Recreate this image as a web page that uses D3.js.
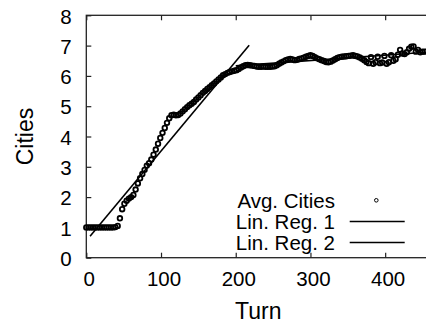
<!DOCTYPE html>
<html>
<head>
<meta charset="utf-8">
<script src="https://cdn.jsdelivr.net/npm/d3@7"></script>
<style>
  body { margin: 0; background: white; }
  text { font-family: "Liberation Sans", Arial, sans-serif; fill: black; }
</style>
</head>
<body>
<div class="chart"></div>
<script>
const turns = d3.range(0, 454, 3)
const avgCities = [
  1.00, 1.00, 1.00, 1.00, 1.00, 1.00, 1.00, 1.00, 1.00, 1.00,
  1.00, 1.00, 1.00, 1.01, 1.05, 1.30, 1.60, 1.78, 1.88, 1.95,
  2.00, 2.07, 2.25, 2.45, 2.62, 2.76, 2.90, 3.04, 3.12, 3.24,
  3.40, 3.57, 3.76, 3.95, 4.12, 4.28, 4.45, 4.60, 4.70, 4.72,
  4.70, 4.71, 4.76, 4.83, 4.90, 4.97, 5.03, 5.08, 5.14, 5.22,
  5.29, 5.36, 5.44, 5.50, 5.57, 5.63, 5.69, 5.75, 5.82, 5.88,
  5.95, 6.02, 6.06, 6.10, 6.13, 6.15, 6.17, 6.19, 6.23, 6.28,
  6.32, 6.35, 6.36, 6.35, 6.34, 6.33, 6.31, 6.30, 6.30, 6.31,
  6.30, 6.30, 6.30, 6.31, 6.32, 6.35, 6.40, 6.44, 6.48, 6.52,
  6.54, 6.56, 6.54, 6.52, 6.53, 6.56, 6.58, 6.60, 6.63, 6.66,
  6.68, 6.66, 6.62, 6.58, 6.55, 6.52, 6.49, 6.46, 6.45, 6.47,
  6.51, 6.55, 6.59, 6.62, 6.63, 6.64, 6.65, 6.66, 6.67, 6.68,
  6.66, 6.64, 6.61, 6.57, 6.52, 6.46, 6.42, 6.62, 6.40, 6.45,
  6.63, 6.42, 6.44, 6.66, 6.40, 6.45, 6.68, 6.50, 6.55, 6.70,
  6.86, 6.74, 6.72, 6.78, 6.90, 6.96, 6.97, 6.80, 6.86, 6.78,
  6.80, 6.80
]

// regression lines: [turn, cities] end points
const linReg1 = [[5, 0.71], [218, 7.01]]
const linReg2 = [[200, 6.33], [460, 6.79]]

const xTicks = [0, 100, 200, 300, 400]
const yTicks = [0, 1, 2, 3, 4, 5, 6, 7, 8]
const legendLabels = ["Avg. Cities", "Lin. Reg. 1", "Lin. Reg. 2"]

const dataset = turns.map((t, i) => ({ turn: t, cities: avgCities[i] }))
const xAccessor = d => d.turn
const yAccessor = d => d.cities

const dimensions = {
  width: 426,
  height: 325,
  margin: { top: 15.3, right: -4, bottom: 67.3, left: 86.3 },
}
dimensions.boundedWidth = dimensions.width
  - dimensions.margin.left
  - dimensions.margin.right
dimensions.boundedHeight = dimensions.height
  - dimensions.margin.top
  - dimensions.margin.bottom

const wrapper = d3.select(".chart")
  .append("svg")
  .attr("width", dimensions.width)
  .attr("height", dimensions.height)
  .style("display", "block")

const bounds = wrapper.append("g")
  .attr("transform", `translate(${dimensions.margin.left}, ${dimensions.margin.top})`)

const xScale = d3.scaleLinear()
  .domain([0, 460])
  .range([0, dimensions.boundedWidth])

const yScale = d3.scaleLinear()
  .domain([0, 8])
  .range([dimensions.boundedHeight, 0])

const axisColor = "#222"
const fontSize = "20.5px"

// frame
bounds.append("rect")
  .attr("width", dimensions.boundedWidth)
  .attr("height", dimensions.boundedHeight)
  .attr("fill", "none")
  .attr("stroke", axisColor)
  .attr("stroke-width", 1.3)

const styleAxis = g => {
  g.select(".domain").remove()
  g.selectAll(".tick line").attr("stroke", axisColor).attr("stroke-width", 1.2)
  g.selectAll(".tick text").style("font-size", fontSize).attr("fill", "black")
}

const xAxis = bounds.append("g")
  .attr("transform", `translate(0, ${dimensions.boundedHeight})`)
  .call(d3.axisBottom(xScale).tickValues(xTicks).tickSize(-5).tickSizeOuter(0).tickPadding(13.5))
  .call(styleAxis)
xAxis.selectAll(".tick text").attr("dx", 2.5)

bounds.append("g")
  .call(d3.axisTop(xScale).tickValues(xTicks).tickSize(-5).tickSizeOuter(0).tickFormat(""))
  .call(styleAxis)

bounds.append("g")
  .call(d3.axisLeft(yScale).tickValues(yTicks).tickSize(-5).tickSizeOuter(0).tickPadding(14.6))
  .call(styleAxis)
  .selectAll(".tick text").attr("dy", "0.38em")

// regression lines
const lineGenerator = d3.line()
  .x(d => xScale(d[0]))
  .y(d => yScale(d[1]))

bounds.append("path")
  .attr("d", lineGenerator(linReg1))
  .attr("fill", "none")
  .attr("stroke", "black")
  .attr("stroke-width", 1.6)

bounds.append("path")
  .attr("d", lineGenerator(linReg2))
  .attr("fill", "none")
  .attr("stroke", "black")
  .attr("stroke-width", 1.6)

// data points
bounds.append("g")
  .selectAll("circle")
  .data(dataset)
  .enter().append("circle")
  .attr("cx", d => xScale(xAccessor(d)))
  .attr("cy", d => yScale(yAccessor(d)))
  .attr("r", 2.3)
  .attr("fill", "none")
  .attr("stroke", "black")
  .attr("stroke-width", 1.8)

// axis labels
wrapper.append("text")
  .attr("x", 258.3)
  .attr("y", 318.7)
  .style("font-size", "23px")
  .style("text-anchor", "middle")
  .text("Turn")

wrapper.append("text")
  .attr("transform", "translate(33, 136.5) rotate(-90)")
  .style("font-size", "23px")
  .style("text-anchor", "middle")
  .text("Cities")

// legend
const legend = wrapper.append("g")
const rowY = [200.3, 221.5, 242.5]
legend.selectAll("text")
  .data(legendLabels)
  .enter().append("text")
  .attr("x", 335)
  .attr("y", (d, i) => rowY[i] + 7.2)
  .style("font-size", fontSize)
  .style("text-anchor", "end")
  .text(d => d)

legend.append("circle")
  .attr("cx", 376.3)
  .attr("cy", rowY[0])
  .attr("r", 1.8)
  .attr("fill", "none")
  .attr("stroke", "black")
  .attr("stroke-width", 1)

legend.selectAll("line")
  .data([1, 2])
  .enter().append("line")
  .attr("x1", 349.7)
  .attr("x2", 404.7)
  .attr("y1", d => rowY[d])
  .attr("y2", d => rowY[d])
  .attr("stroke", "black")
  .attr("stroke-width", 1.7)
</script>
</body>
</html>
